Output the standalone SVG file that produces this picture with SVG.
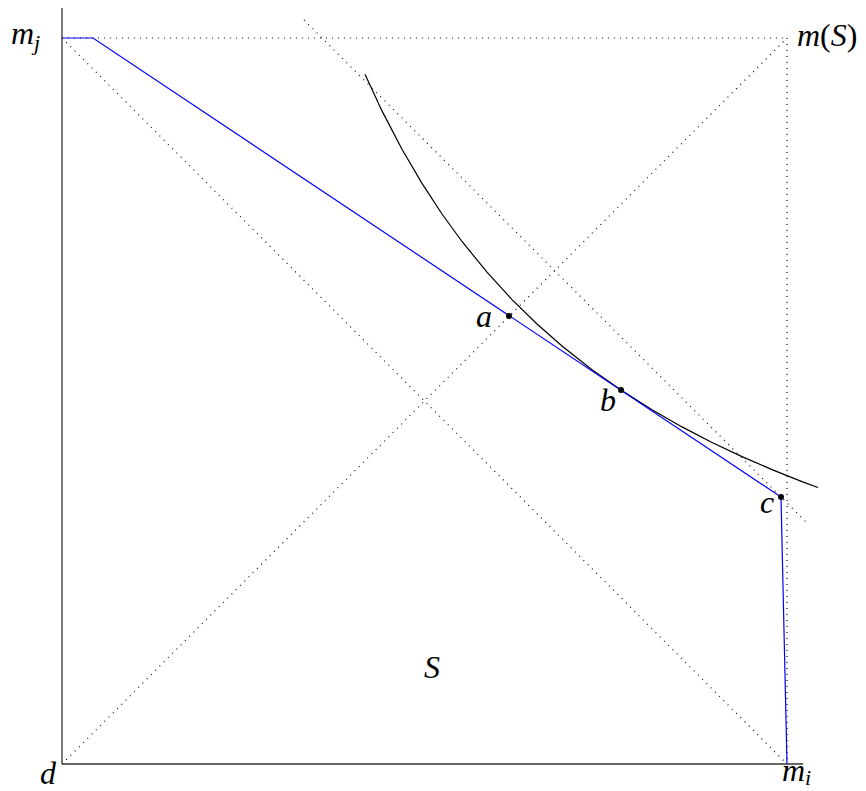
<svg xmlns="http://www.w3.org/2000/svg" width="866" height="791" viewBox="0 0 866 791">
<style>
.axis{stroke:#333;stroke-width:1.3;fill:none}
.dot{stroke:#111;stroke-width:1.2;stroke-dasharray:1 5;fill:none}
.blue{stroke:#0000ff;stroke-width:1.2;fill:none}
.curve{stroke:#000;stroke-width:1.2;fill:none}
.lbl{font-family:"Liberation Serif",serif;font-style:italic;font-size:32px;fill:#000}
.sub{font-size:22px}
.up{font-style:normal}
</style>
<rect width="866" height="791" fill="#fff"/>
<g id="connectors">
<line class="dot" x1="62" y1="38" x2="787" y2="38"/>
<line class="dot" x1="787" y1="38" x2="787" y2="764"/>
<line class="dot" x1="62" y1="764" x2="787" y2="38"/>
<line class="dot" x1="62" y1="38" x2="787" y2="764"/>
<line class="dot" x1="304" y1="20" x2="807" y2="523"/>
<path class="curve" d="M365,74.2 L382,110.9 L402,149.3 L422,183.4 L442,214 L462,241.5 L487,272.2 L512,299.6 L537,324 L562,346 L592,369.7 L621,390.1 L652,409.8 L682,426.9 L712,442.5 L742,456.6 L772,469.6 L802,481.6 L818,487.5"/>
<polyline class="blue" points="62,38 93,38 781,497 787,764"/>
<line class="axis" x1="62" y1="8" x2="62" y2="764"/>
<line class="axis" x1="62" y1="764" x2="803" y2="764"/>
</g>
<g id="a"><circle cx="509" cy="316" r="3"/><text class="lbl" x="476" y="327">a</text></g>
<g id="b"><circle cx="621" cy="390" r="3"/><text class="lbl" x="600" y="411">b</text></g>
<g id="c"><circle cx="781" cy="497" r="3"/><text class="lbl" x="760" y="513">c</text></g>
<g id="mj"><text class="lbl" x="11" y="44">m<tspan class="sub" dy="6">j</tspan></text></g>
<g id="mS"><text class="lbl" x="797" y="46">m<tspan class="up">(</tspan>S<tspan class="up">)</tspan></text></g>
<g id="mi"><text class="lbl" x="782" y="781">m<tspan class="sub" dy="4">i</tspan></text></g>
<g id="d"><text class="lbl" x="40" y="784">d</text></g>
<g id="S"><text class="lbl" x="424" y="678">S</text></g>
</svg>
